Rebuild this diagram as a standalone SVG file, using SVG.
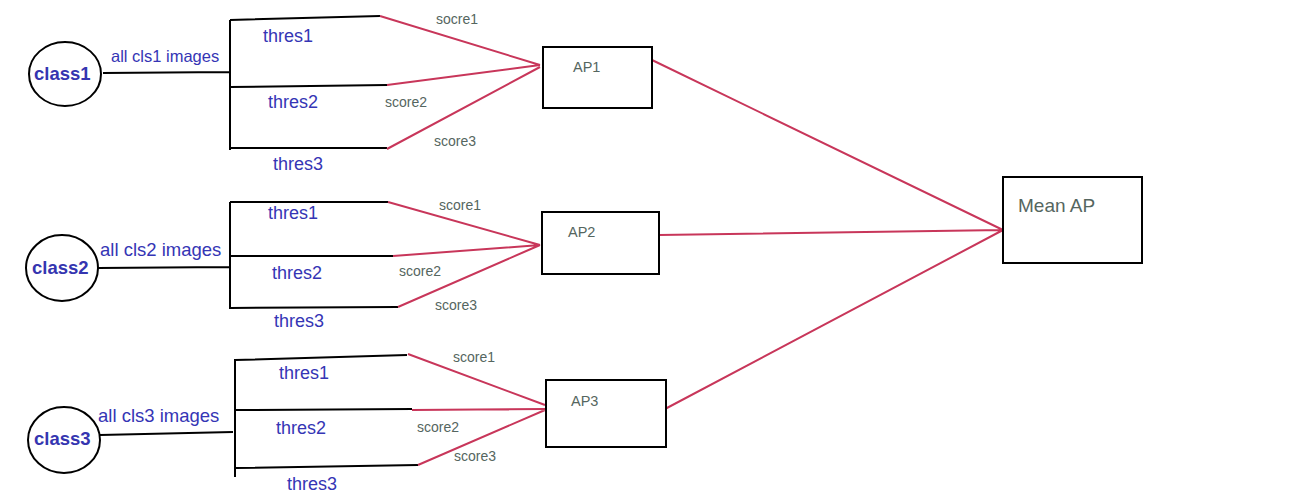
<svg xmlns="http://www.w3.org/2000/svg" width="1300" height="500" viewBox="0 0 1300 500">
<style>
.bg{fill:#ffffff}
.node{fill:#ffffff;stroke:#000000;stroke-width:2}
.blk{stroke:#000000;stroke-width:2;fill:none}
.red{stroke:#c8365a;stroke-width:2;fill:none}
.cls{font-family:"Liberation Sans",Arial,sans-serif;font-weight:bold;font-size:18.5px;fill:#3535b0}
.lab{font-family:"Liberation Sans",Arial,sans-serif;font-size:18.5px;fill:#3535b5}
.thr{font-family:"Liberation Sans",Arial,sans-serif;font-size:18px;fill:#3535b5}
.sc{font-family:"Liberation Sans",Arial,sans-serif;font-size:14px;fill:#556660}
.ap{font-family:"Liberation Sans",Arial,sans-serif;font-size:14.5px;fill:#556660}
.mean{font-family:"Liberation Sans",Arial,sans-serif;font-size:19px;fill:#556660}
</style>
<rect class="bg" x="0" y="0" width="1300" height="500"/>
<g id="connectors">
<path class="blk" d="M103 73 L230 72 M230 20 L230 150 M230 20 L380 16 M230 87 L387 85 M231 148 L387 148"/>
<path class="red" d="M380 16 L540 65 M387 85 L540 65 M387 149 L540 67"/>
<path class="blk" d="M98 268 L230 267 M230 202 L230 309 M230 202 L388 202 M230 256 L393 256 M230 308 L398 307"/>
<path class="red" d="M388 202 L540 245 M393 256 L540 245 M398 307 L540 245"/>
<path class="blk" d="M100 435 L233 432 M235 359 L235 477 M235 360 L407 355 M235 410 L412 409 M236 468 L418 465"/>
<path class="red" d="M408 354 L545 405 M412 410 L545 409 M418 465 L545 410"/>
<path class="red" d="M652 60 L1003 230 M659 235 L1003 230 M665 409 L1003 230"/>
</g>
<g id="class1">
<ellipse class="node" cx="65" cy="74" rx="36" ry="32"/>
<text class="cls" x="34" y="80">class1</text>
</g>
<g id="class2">
<ellipse class="node" cx="62" cy="268" rx="36" ry="33"/>
<text class="cls" x="32" y="274">class2</text>
</g>
<g id="class3">
<ellipse class="node" cx="64" cy="440" rx="36" ry="33"/>
<text class="cls" x="34" y="445">class3</text>
</g>
<g id="ap1">
<rect class="node" x="543" y="47" width="109" height="61"/>
<text class="ap" x="573" y="72">AP1</text>
</g>
<g id="ap2">
<rect class="node" x="542" y="212" width="117" height="62"/>
<text class="ap" x="568" y="237">AP2</text>
</g>
<g id="ap3">
<rect class="node" x="546" y="380" width="120" height="67"/>
<text class="ap" x="571" y="406">AP3</text>
</g>
<g id="meanap">
<rect class="node" x="1003" y="177" width="139" height="86"/>
<text class="mean" x="1018" y="212">Mean AP</text>
</g>
<g id="labels">
<text class="lab" x="111" y="62" style="font-size:16.5px">all cls1 images</text>
<text class="thr" x="263" y="42">thres1</text>
<text class="thr" x="268" y="108">thres2</text>
<text class="thr" x="273" y="170">thres3</text>
<text class="sc" x="436" y="24">socre1</text>
<text class="sc" x="385" y="107">score2</text>
<text class="sc" x="434" y="146">score3</text>

<text class="lab" x="100" y="256">all cls2 images</text>
<text class="thr" x="268" y="219">thres1</text>
<text class="thr" x="272" y="279">thres2</text>
<text class="thr" x="274" y="327">thres3</text>
<text class="sc" x="439" y="210">score1</text>
<text class="sc" x="399" y="276">score2</text>
<text class="sc" x="435" y="310">score3</text>

<text class="lab" x="98" y="422">all cls3 images</text>
<text class="thr" x="279" y="379">thres1</text>
<text class="thr" x="276" y="434">thres2</text>
<text class="thr" x="287" y="490">thres3</text>
<text class="sc" x="453" y="362">score1</text>
<text class="sc" x="417" y="432">score2</text>
<text class="sc" x="454" y="461">score3</text>
</g>
</svg>
